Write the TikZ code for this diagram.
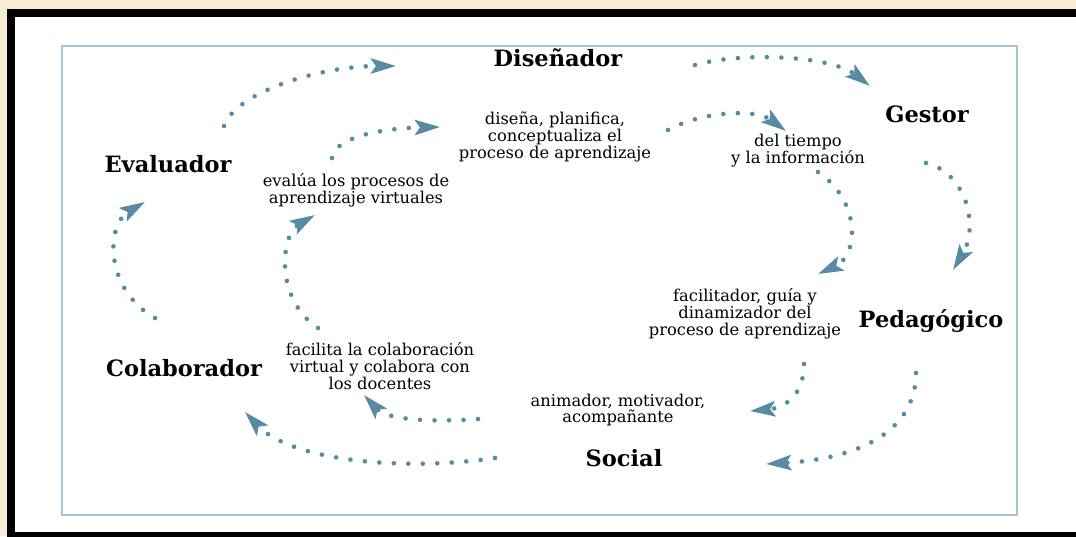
\documentclass[tikz,border=0pt]{standalone}
\usepackage{fontspec}
\setmainfont{DejaVu Serif}
\usetikzlibrary{arrows.meta}
\definecolor{paper}{RGB}{248,236,212}
\definecolor{cyc}{RGB}{86,139,163}
\definecolor{framecol}{RGB}{165,195,210}
\tikzset{ rol/.style = { rectangle % role
        , inner sep = 0pt
        , font = \bfseries\fontsize{22.5}{26}\selectfont
        }
        , txt/.style = { rectangle % what the role does
        , inner sep = 0pt
        , align = center
        , font = \fontsize{16.3}{16.8}\selectfont
        }
        }

\begin{document}
\begin{tikzpicture}[x=1pt, y=-1pt,
        edge_style/.style={draw=cyc, line width=4.6pt, line cap=round, dash pattern=on 0pt off 14.5pt,
                -{Stealth[length=25pt,width=15pt,inset=5pt]}}]
        \clip (0,0) rectangle (1076,536);
        \fill [paper] (0,0) rectangle (1076,536);
        \filldraw [fill=white, draw=black, line width=8pt] (11,13) rectangle (1090,536);
        \draw [framecol, line width=1.5pt] (62,46) rectangle (1017,515);

        \node [rol] (n1) at (558,58) {Diseñador};
        \node [rol] (n2) at (927,114) {Gestor};
        \node [rol] (n3) at (931,321) {Pedagógico};
        \node [rol] (n4) at (624,458) {Social};
        \node [rol] (n5) at (184,368) {Colaborador};
        \node [rol] (n6) at (168,164) {Evaluador};

        \node [txt] (t1) at (555,137) {diseña, planifica,\\conceptualiza el\\proceso de aprendizaje};
        \node [txt] (t2) at (798,151) {del tiempo\\y la información};
        \node [txt] (t3) at (745,314) {facilitador, guía y\\dinamizador del\\proceso de aprendizaje};
        \node [txt] (t4) at (618,410) {animador, motivador,\\acompañante};
        \node [txt] (t5) at (380,366) {facilita la colaboración\\virtual y colabora con\\los docentes};
        \node [txt] (t6) at (356,190) {evalúa los procesos de\\aprendizaje virtuales};

        % outer ring
        \coordinate (s1) at (224,126); \coordinate (e1) at (396,66);
        \coordinate (s2) at (695,65);  \coordinate (e2) at (870,86);
        \coordinate (s3) at (926,163); \coordinate (e3) at (953,270);
        \coordinate (s4) at (916,373); \coordinate (e4) at (766,464);
        \coordinate (s5) at (495,458); \coordinate (e5) at (245,412);
        \coordinate (s6) at (155,318); \coordinate (e6) at (145,202);
        \draw [edge_style] (s1) .. controls (236,92) and (320,66) .. (e1);
        \draw [edge_style] (s2) .. controls (740,52) and (830,55) .. (e2);
        \draw [edge_style] (s3) .. controls (965,172) and (980,225) .. (e3);
        \draw [edge_style] (s4) .. controls (916,425) and (870,458) .. (e4);
        \draw [edge_style] (s5) .. controls (400,472) and (290,460) .. (e5);
        \draw [edge_style] (s6) .. controls (105,290) and (105,225) .. (e6);

        % inner ring
        \coordinate (s7) at (332,158);  \coordinate (e7) at (440,127);
        \coordinate (s8) at (668,130);  \coordinate (e8) at (786,131);
        \coordinate (s9) at (818,172);  \coordinate (e9) at (818,274);
        \coordinate (s10) at (804,364); \coordinate (e10) at (750,411);
        \coordinate (s11) at (478,419); \coordinate (e11) at (364,395);
        \coordinate (s12) at (318,328); \coordinate (e12) at (315,215);
        \draw [edge_style] (s7) .. controls (335,135) and (390,128) .. (e7);
        \draw [edge_style] (s8) .. controls (700,112) and (755,108) .. (e8);
        \draw [edge_style] (s9) .. controls (860,200) and (860,255) .. (e9);
        \draw [edge_style] (s10) .. controls (804,395) and (785,408) .. (e10);
        \draw [edge_style] (s11) .. controls (420,423) and (385,418) .. (e11);
        \draw [edge_style] (s12) .. controls (275,300) and (280,235) .. (e12);
\end{tikzpicture}
\end{document}
